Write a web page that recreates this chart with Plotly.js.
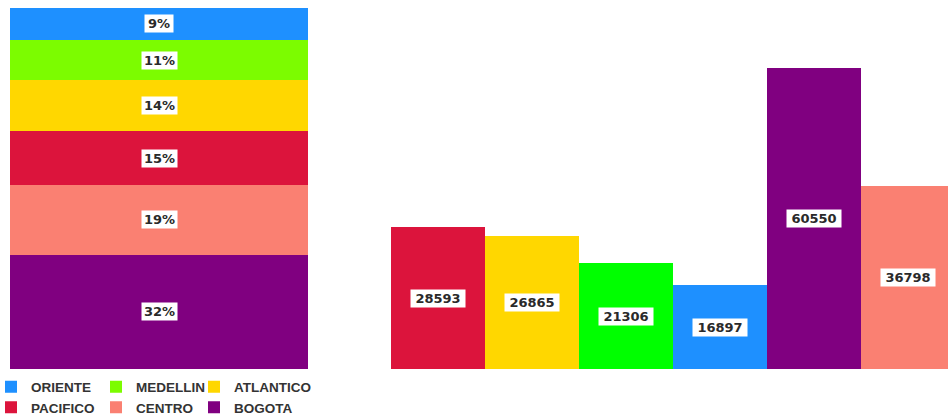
<!DOCTYPE html>
<html>
<head>
<meta charset="utf-8">
<script src="https://cdn.plot.ly/plotly-3.0.1.min.js"></script>
<style>html,body{margin:0;padding:0;background:#fff;}#chart{width:948px;height:416px;}</style>
</head>
<body>
<div id="chart"></div>
<script>
// Data (categories in the order of the right-hand bar chart)
const regions = ["PACIFICO", "ATLANTICO", "MEDELLIN", "ORIENTE", "BOGOTA", "CENTRO"];
const counts  = [28593, 26865, 21306, 16897, 60550, 36798];
// Stack order of the left 100% bar, bottom to top
const stackOrder = ["BOGOTA", "CENTRO", "PACIFICO", "ATLANTICO", "MEDELLIN", "ORIENTE"];
// Legend columns (top row first)
const legendCol1 = ["ORIENTE", "PACIFICO"];
const legendCol2 = ["MEDELLIN", "CENTRO"];
const legendCol3 = ["ATLANTICO", "BOGOTA"];

// Styles
const stackColors = {
  BOGOTA: "#800080", CENTRO: "#FA8072", PACIFICO: "#DC143C",
  ATLANTICO: "#FFD700", MEDELLIN: "#7CFC00", ORIENTE: "#1E90FF"
};
const barColors = {
  BOGOTA: "#800080", CENTRO: "#FA8072", PACIFICO: "#DC143C",
  ATLANTICO: "#FFD700", MEDELLIN: "#00FF00", ORIENTE: "#1E90FF"
};

const valueOf = r => counts[regions.indexOf(r)];
const total = counts.reduce((a, b) => a + b, 0);

const traces = [];
const annotations = [];
const labelFont = {family: "DejaVu Sans", size: 13, color: "#2a2a2a", weight: "bold"};

function legendFor(r) {
  if (legendCol1.includes(r)) return "legend";
  if (legendCol2.includes(r)) return "legend2";
  return "legend3";
}

let cum = 0;
stackOrder.forEach(r => {
  const v = valueOf(r);
  traces.push({
    type: "bar", x: [0], y: [v], name: r,
    marker: {color: stackColors[r]},
    xaxis: "x", yaxis: "y",
    legend: legendFor(r),
    hoverinfo: "none"
  });
  const pct = Math.round(v / total * 100) + "%";
  annotations.push({
    x: 0, y: cum + v / 2, xref: "x", yref: "y", text: pct, showarrow: false,
    bgcolor: "#ffffff", borderpad: 1, font: labelFont,
    width: pct.length > 2 ? 33 : 26
  });
  cum += v;
});

traces.push({
  type: "bar", x: regions, y: counts, xaxis: "x2", yaxis: "y2",
  marker: {color: regions.map(r => barColors[r])},
  showlegend: false, hoverinfo: "none"
});
regions.forEach((r, i) => {
  annotations.push({
    x: r, y: counts[i] / 2, xref: "x2", yref: "y2", text: String(counts[i]),
    showarrow: false, bgcolor: "#ffffff", borderpad: 1, font: labelFont, width: 52
  });
});

const legendFont = {family: "Liberation Sans", size: 13.5, color: "#333333", weight: "bold"};
const legendBase = {orientation: "v", xanchor: "left", y: -28.5/361, yanchor: "middle",
                    traceorder: "reversed", font: legendFont, bgcolor: "rgba(0,0,0,0)",
                    tracegroupgap: 0};
const layout = {
  width: 948, height: 416,
  margin: {l: 0, r: 0, t: 8, b: 47, autoexpand: false},
  paper_bgcolor: "#ffffff", plot_bgcolor: "#ffffff",
  barmode: "stack", bargap: 0,
  xaxis: {domain: [10/948, 308/948], range: [-0.5, 0.5], visible: false, fixedrange: true},
  yaxis: {range: [0, total], visible: false, fixedrange: true},
  xaxis2: {domain: [391/948, 1], range: [-0.5, 5.42], visible: false, type: "category", fixedrange: true},
  yaxis2: {range: [0, 72700], visible: false, fixedrange: true, anchor: "x2"},
  legend:  Object.assign({}, legendBase, {x: -9/948}),
  legend2: Object.assign({}, legendBase, {x: 96/948}),
  legend3: Object.assign({}, legendBase, {x: 194/948}),
  annotations: annotations,
  showlegend: true
};

Plotly.newPlot("chart", traces, layout, {displayModeBar: false, staticPlot: true});
</script>
</body>
</html>
